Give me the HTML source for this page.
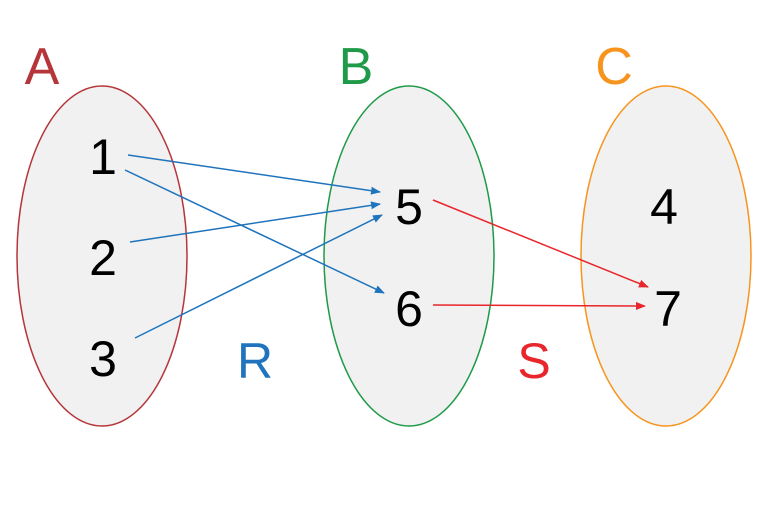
<!DOCTYPE html>
<html><head><style>html,body{margin:0;padding:0;background:#fff;width:768px;height:512px;overflow:hidden}</style></head>
<body>
<svg width="768" height="512" viewBox="0 0 768 512" xmlns="http://www.w3.org/2000/svg" font-family="Liberation Sans, sans-serif">
<defs>
<marker id="b" markerWidth="10" markerHeight="8" refX="9" refY="4" orient="auto" markerUnits="userSpaceOnUse"><path d="M0,0 L10,4 L0,8 Z" fill="#1f74bd"/></marker>
<marker id="r" markerWidth="10" markerHeight="8" refX="9" refY="4" orient="auto" markerUnits="userSpaceOnUse"><path d="M0,0 L10,4 L0,8 Z" fill="#e8262b"/></marker>
</defs>
<ellipse cx="102" cy="256" rx="85" ry="170" fill="#f1f1f1" stroke="#b5353a" stroke-width="1.5"/>
<ellipse cx="409" cy="256" rx="85" ry="170" fill="#f1f1f1" stroke="#1e9a48" stroke-width="1.5"/>
<ellipse cx="666" cy="256" rx="85" ry="170" fill="#f1f1f1" stroke="#f7941d" stroke-width="1.5"/>
<text x="42" y="84" font-size="52" fill="#b5353a" text-anchor="middle">A</text>
<text x="356" y="84" font-size="52" fill="#1e9a48" text-anchor="middle">B</text>
<text x="614" y="84" font-size="52" fill="#f7941d" text-anchor="middle">C</text>
<text x="255" y="378" font-size="50" fill="#1f74bd" text-anchor="middle">R</text>
<text x="534" y="378" font-size="50" fill="#e8262b" text-anchor="middle">S</text>
<g font-size="50" fill="#000" text-anchor="middle">
<text x="103" y="174">1</text>
<text x="103" y="275">2</text>
<text x="103" y="376">3</text>
<text x="409" y="224">5</text>
<text x="409" y="326">6</text>
<text x="664" y="224">4</text>
<text x="668" y="326">7</text>
</g>
<g stroke="#1f74bd" stroke-width="1.5">
<line x1="128" y1="155" x2="380" y2="192" marker-end="url(#b)"/>
<line x1="125" y1="170" x2="384" y2="293" marker-end="url(#b)"/>
<line x1="130" y1="242" x2="380" y2="204" marker-end="url(#b)"/>
<line x1="135" y1="338" x2="382" y2="215" marker-end="url(#b)"/>
</g>
<g stroke="#e8262b" stroke-width="1.5">
<line x1="433" y1="200" x2="648" y2="287" marker-end="url(#r)"/>
<line x1="433" y1="305" x2="645" y2="306" marker-end="url(#r)"/>
</g>
</svg>
</body></html>
